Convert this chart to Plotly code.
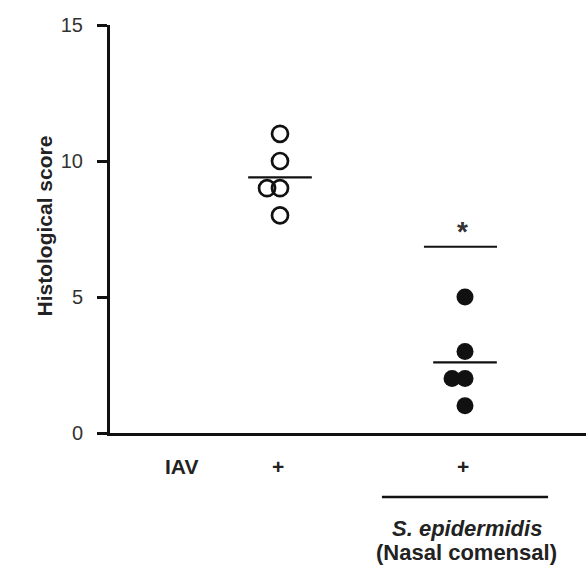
import plotly.graph_objects as go

# ---- data ----
groups = ["IAV", "IAV + S. epidermidis"]
group_x = [1, 2]
iav_scores = [11, 10, 9, 9, 8]
iav_dx = [0, 0, -0.07, 0, 0]
sepi_scores = [5, 3, 2, 2, 1]
sepi_dx = [0, 0, -0.07, 0, 0]
sig_level = [6.85]
sig_label = ["*"]
y_ticks = [0, 5, 10, 15]
row_label = "IAV"
row_marks = ["+", "+"]
bottom_label = ["<i>S. epidermidis</i>", "(Nasal comensal)"]

FONT = "Liberation Sans, Arial, sans-serif"
TXT = "#222222"

fig = go.Figure()

# open circles (IAV)
fig.add_trace(go.Scatter(
    x=[group_x[0] + d for d in iav_dx], y=iav_scores, mode="markers",
    marker=dict(symbol="circle-open", size=16, color="#111111", line=dict(width=2.7)),
    showlegend=False, hoverinfo="y"))
# filled circles (IAV + S. epidermidis)
fig.add_trace(go.Scatter(
    x=[group_x[1] + d for d in sepi_dx], y=sepi_scores, mode="markers",
    marker=dict(symbol="circle", size=17, color="#111111", line=dict(width=0)),
    showlegend=False, hoverinfo="y"))

# mean lines
for gx, vals in zip(group_x, [iav_scores, sepi_scores]):
    m = sum(vals) / len(vals)
    fig.add_trace(go.Scatter(
        x=[gx - 0.172, gx + 0.172], y=[m, m], mode="lines",
        line=dict(color="#111111", width=2.2), showlegend=False, hoverinfo="skip"))

# significance bar
fig.add_trace(go.Scatter(
    x=[group_x[1] - 0.222, group_x[1] + 0.173], y=[sig_level[0], sig_level[0]], mode="lines",
    line=dict(color="#111111", width=2), showlegend=False, hoverinfo="skip"))
fig.add_annotation(x=group_x[1] - 0.016, y=sig_level[0] + 0.55, xref="x", yref="y",
                   text="<b>%s</b>" % sig_label[0], showarrow=False,
                   font=dict(family=FONT, size=28, color="#333333"), yanchor="middle")

# labels under the axis
fig.add_annotation(x=0.465, y=-0.083, xref="x", yref="paper", text="<b>%s</b>" % row_label,
                   showarrow=False, font=dict(family=FONT, size=21, color=TXT), yanchor="middle")
for gx, mk in zip(group_x, row_marks):
    fig.add_annotation(x=gx - 0.01, y=-0.083, xref="x", yref="paper", text="<b>%s</b>" % mk,
                       showarrow=False, font=dict(family=FONT, size=21, color=TXT), yanchor="middle")
fig.add_shape(type="line", xref="x", yref="paper", x0=group_x[1] - 0.449, x1=group_x[1] + 0.449,
              y0=-0.157, y1=-0.157, line=dict(color="#111111", width=2.5))
fig.add_annotation(x=group_x[1] + 0.01, y=-0.233, xref="x", yref="paper", text="<b>%s</b>" % bottom_label[0],
                   showarrow=False, font=dict(family=FONT, size=22, color=TXT), yanchor="middle")
fig.add_annotation(x=group_x[1] + 0.01, y=-0.293, xref="x", yref="paper", text="<b>%s</b>" % bottom_label[1],
                   showarrow=False, font=dict(family=FONT, size=22, color=TXT), yanchor="middle")

# y-axis title (pixel position converted to paper coords)
fig.add_annotation(x=(30 - 110) / 476, y=(433 - 226) / 408, xref="paper", yref="paper",
                   text="<b>Histological score</b>", showarrow=False, textangle=-90,
                   font=dict(family=FONT, size=21, color=TXT))

fig.update_layout(
    width=586, height=569,
    margin=dict(l=110, r=0, t=25, b=136),
    paper_bgcolor="white", plot_bgcolor="white",
    xaxis=dict(range=[0.0811, 2.654], showgrid=False, zeroline=False, showticklabels=False,
               showline=True, linecolor="#111111", linewidth=3, ticks=""),
    yaxis=dict(range=[0, 15], tickvals=y_ticks, showgrid=False, zeroline=False,
               showline=True, linecolor="#111111", linewidth=3,
               ticks="outside", ticklen=10, tickwidth=3, tickcolor="#111111",
               ticklabelstandoff=10,
               tickfont=dict(family=FONT, size=20, color="#333333")),
)

fig.write_html("out.html")
